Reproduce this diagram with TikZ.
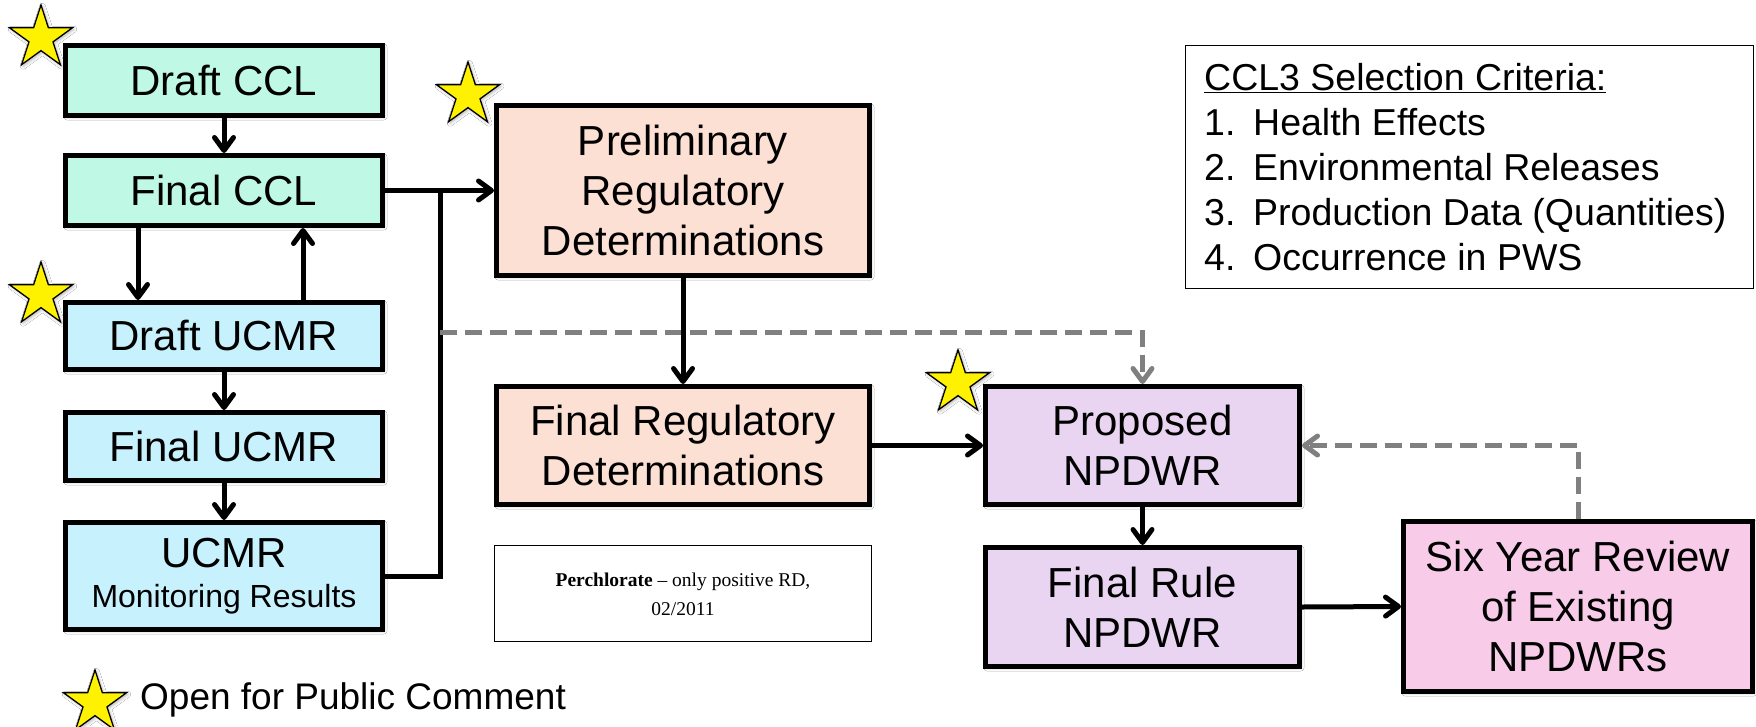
\documentclass[tikz,border=0pt]{standalone}
\usepackage{fontspec}
\setmainfont{Liberation Sans}
\newfontfamily\perchfont{Liberation Serif}
\usetikzlibrary{arrows.meta,shapes.geometric,shadows.blur}
\definecolor{mint}{RGB}{192,248,230}
\definecolor{skyc}{RGB}{199,241,253}
\definecolor{peach}{RGB}{252,224,212}
\definecolor{lav}{RGB}{233,213,242}
\definecolor{pinkc}{RGB}{248,204,232}
\definecolor{dgray}{RGB}{128,128,128}
\begin{document}
\begin{tikzpicture}[x=1pt,y=-1pt,
  softshadow/.style={blur shadow={shadow xshift=1.5pt, shadow yshift=-1.5pt, shadow blur radius=3pt, shadow opacity=30}},
  box/.style={draw=black, line width=5pt, inner sep=0pt, align=center, font=\fontsize{42}{50}\selectfont, softshadow},
  thinbox/.style={draw=black, line width=1.5pt, inner sep=0pt, fill=white},
  arr/.style={draw=black, line width=5pt, -{Straight Barb[length=13pt,width=19pt,round]}},
  plain/.style={draw=black, line width=5pt, line cap=round},
  dashline/.style={draw=dgray, line width=5pt, dash pattern=on 17pt off 8pt, -{Straight Barb[length=13pt,width=19pt,round]}},
  starmark/.style={star, star points=5, star point ratio=2.618, minimum size=66pt, inner sep=0pt, fill=yellow, draw=black, line width=1.3pt, softshadow}
]
\fill[white] (0,0) rectangle (1756,726);
\useasboundingbox (0,0) rectangle (1756,726);

% left column
\node[box, fill=mint, minimum width=317pt, minimum height=70pt] (dccl) at (224,80.5) {Draft CCL};
\node[box, fill=mint, minimum width=317pt, minimum height=70pt] (fccl) at (224,190.5) {Final CCL};
\node[box, fill=skyc, minimum width=317pt, minimum height=67pt] (ducmr) at (224,336) {Draft UCMR};
\node[box, fill=skyc, minimum width=317pt, minimum height=68pt] (fucmr) at (224,446.5) {Final UCMR};
\node[box, fill=skyc, minimum width=317pt, minimum height=107pt] (ucmr) at (224,576) {UCMR\\[-10pt]{\fontsize{32}{38}\selectfont Monitoring Results}};

% middle
\node[box, fill=peach, minimum width=373pt, minimum height=170pt] (prelim) at (683,190.5) {Preliminary\\Regulatory\\Determinations};
\node[box, fill=peach, minimum width=373pt, minimum height=118pt] (frd) at (683,445.5) {Final Regulatory\\Determinations};
\node[thinbox, minimum width=377pt, minimum height=96pt] (perch) at (683,593.5) {};
\node[align=center, font=\perchfont\fontsize{19.5}{29}\selectfont] (perchtxt) at (683,594) {\textbf{Perchlorate} – only positive RD,\\02/2011};

% right
\node[box, fill=lav, minimum width=314pt, minimum height=118pt] (prop) at (1142.5,445.5) {Proposed\\NPDWR};
\node[box, fill=lav, minimum width=314pt, minimum height=119pt] (frule) at (1142.5,607) {Final Rule\\NPDWR};
\node[box, fill=pinkc, minimum width=349pt, minimum height=170pt] (six) at (1578,606.5) {Six Year Review\\of Existing\\NPDWRs};

% criteria box
\node[thinbox, minimum width=568pt, minimum height=243pt] (ccl3) at (1469.5,167) {};
\node[anchor=west, align=left, inner sep=0pt, font=\fontsize{37.5}{45}\selectfont] (crit) at (1204,167)
  {\underline{CCL3 Selection Criteria:}\\
   \makebox[49pt][l]{1.}Health Effects\\
   \makebox[49pt][l]{2.}Environmental Releases\\
   \makebox[49pt][l]{3.}Production Data (Quantities)\\
   \makebox[49pt][l]{4.}Occurrence in PWS};

% stars
\node[starmark] (s1) at (41,38) {};
\node[starmark] (s2) at (41,295) {};
\node[starmark] (s3) at (468,95) {};
\node[starmark] (s4) at (958,383) {};
\node[starmark] (s5) at (95,703) {};
\node[anchor=west, inner sep=0pt, font=\fontsize{37}{44}\selectfont] (legend) at (140,700) {Open for Public Comment};

% connectors
\coordinate (bus) at (440,190.5);
\coordinate (dstart) at (440,332);

\draw[arr] (dccl) -- (fccl);
\draw[arr] ([xshift=75pt]fccl.south west) -- ([xshift=75pt]ducmr.north west);
\draw[arr] ([xshift=240pt]ducmr.north west) -- ([xshift=240pt]fccl.south west);
\draw[arr] (ducmr) -- (fucmr);
\draw[arr] (fucmr) -- (ucmr);
\draw[arr] (fccl.east) -- (prelim.west);
\draw[plain] (ucmr.east) -| (bus);
\draw[dashline] (dstart) -| (prop.north);
\draw[dashline] (six.north) |- (prop.east);
\draw[arr] (prelim) -- (frd);
\draw[arr] (frd.east) -- (prop.west);
\draw[arr] (prop) -- (frule);
\draw[arr] (frule.east) -- (six.west);
\end{tikzpicture}
\end{document}
